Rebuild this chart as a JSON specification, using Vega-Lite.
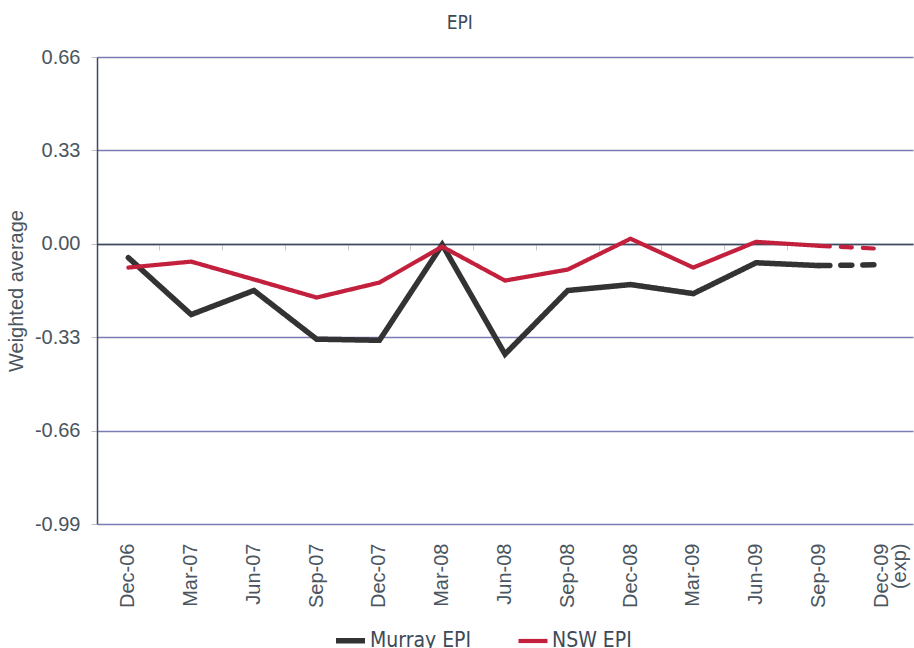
{
  "$schema": "https://vega.github.io/schema/vega-lite/v6.json",
  "autosize": {"type": "none"},
  "width": 816,
  "height": 467,
  "padding": {"left": 97, "top": 57, "right": 1, "bottom": 124},
  "background": "white",
  "title": {
    "text": "EPI",
    "fontSize": 19,
    "font": "Liberation Sans Narrow, DejaVu Sans Condensed, Roboto",
    "fontWeight": "normal",
    "color": "#3d4a57",
    "anchor": "middle",
    "frame": "bounds",
    "offset": 14
  },
  "config": {
    "view": {"stroke": null},
    "axis": {"labelFont": "Liberation Sans, Arial, sans-serif", "titleFont": "Liberation Sans, Arial, sans-serif"}
  },
  "data": {
    "values": [
      {"q": "Dec-06", "series": "Murray EPI", "seg": "actual", "v": -0.049},
      {"q": "Mar-07", "series": "Murray EPI", "seg": "actual", "v": -0.25},
      {"q": "Jun-07", "series": "Murray EPI", "seg": "actual", "v": -0.165},
      {"q": "Sep-07", "series": "Murray EPI", "seg": "actual", "v": -0.337},
      {"q": "Dec-07", "series": "Murray EPI", "seg": "actual", "v": -0.341},
      {"q": "Mar-08", "series": "Murray EPI", "seg": "actual", "v": -0.003},
      {"q": "Jun-08", "series": "Murray EPI", "seg": "actual", "v": -0.39},
      {"q": "Sep-08", "series": "Murray EPI", "seg": "actual", "v": -0.165},
      {"q": "Dec-08", "series": "Murray EPI", "seg": "actual", "v": -0.144},
      {"q": "Mar-09", "series": "Murray EPI", "seg": "actual", "v": -0.176},
      {"q": "Jun-09", "series": "Murray EPI", "seg": "actual", "v": -0.067},
      {"q": "Sep-09", "series": "Murray EPI", "seg": "actual", "v": -0.077},
      {"q": "Sep-09", "series": "Murray EPI", "seg": "expected", "v": -0.077},
      {"q": "Dec-09", "series": "Murray EPI", "seg": "expected", "v": -0.074},
      {"q": "Dec-06", "series": "NSW EPI", "seg": "actual", "v": -0.084},
      {"q": "Mar-07", "series": "NSW EPI", "seg": "actual", "v": -0.063},
      {"q": "Jun-07", "series": "NSW EPI", "seg": "actual", "v": -0.126},
      {"q": "Sep-07", "series": "NSW EPI", "seg": "actual", "v": -0.19},
      {"q": "Dec-07", "series": "NSW EPI", "seg": "actual", "v": -0.137},
      {"q": "Mar-08", "series": "NSW EPI", "seg": "actual", "v": -0.01},
      {"q": "Jun-08", "series": "NSW EPI", "seg": "actual", "v": -0.13},
      {"q": "Sep-08", "series": "NSW EPI", "seg": "actual", "v": -0.091},
      {"q": "Dec-08", "series": "NSW EPI", "seg": "actual", "v": 0.018},
      {"q": "Mar-09", "series": "NSW EPI", "seg": "actual", "v": -0.084},
      {"q": "Jun-09", "series": "NSW EPI", "seg": "actual", "v": 0.007},
      {"q": "Sep-09", "series": "NSW EPI", "seg": "actual", "v": -0.007},
      {"q": "Sep-09", "series": "NSW EPI", "seg": "expected", "v": -0.007},
      {"q": "Dec-09", "series": "NSW EPI", "seg": "expected", "v": -0.018}
    ]
  },
  "layer": [
    {
      "mark": {"type": "rule", "color": "#3d4a57", "strokeWidth": 1.5},
      "encoding": {
        "x": {
          "field": "q",
          "type": "ordinal",
          "sort": ["Dec-06","Mar-07","Jun-07","Sep-07","Dec-07","Mar-08","Jun-08","Sep-08","Dec-08","Mar-09","Jun-09","Sep-09","Dec-09"],
          "scale": {"type": "band", "paddingInner": 0, "paddingOuter": 0},
          "axis": {
            "orient": "top",
            "offset": -187,
            "labels": false,
            "title": null,
            "domain": true,
            "domainColor": "#3d4a57",
            "domainWidth": 1.5,
            "ticks": true,
            "tickSize": -6,
            "tickColor": "#c8c8c8",
            "tickWidth": 1,
            "bandPosition": 0,
            "grid": false
          }
        },
        "opacity": {"value": 0}
      }
    },
    {
      "mark": {"type": "line", "strokeCap": "round", "strokeJoin": "miter"},
      "encoding": {
        "x": {
          "field": "q",
          "type": "ordinal",
          "sort": ["Dec-06","Mar-07","Jun-07","Sep-07","Dec-07","Mar-08","Jun-08","Sep-08","Dec-08","Mar-09","Jun-09","Sep-09","Dec-09"],
          "scale": {"type": "band", "paddingInner": 0, "paddingOuter": 0},
          "axis": {
            "orient": "bottom",
            "title": null,
            "domain": false,
            "ticks": false,
            "grid": false,
            "labelAngle": -90,
            "labelAlign": "right",
            "labelBaseline": "middle",
            "labelPadding": 19,
            "labelFontSize": 20,
            "labelColor": "#4a5560",
            "labelLineHeight": 18,
            "labelExpr": "datum.value == 'Dec-09' ? ['Dec-09', '(exp)'] : datum.value"
          }
        },
        "y": {
          "field": "v",
          "type": "quantitative",
          "scale": {"domain": [-0.99, 0.66], "nice": false, "zero": false},
          "axis": {
            "values": [-0.99, -0.66, -0.33, 0, 0.33, 0.66],
            "labelExpr": "replace(format(datum.value, '.2f'), '\u2212', '-')",
            "title": "Weighted average",
            "titleFontSize": 20,
            "titleFontWeight": "normal",
            "titleColor": "#4a5560",
            "titlePadding": 8,
            "labelFontSize": 20,
            "labelColor": "#4a5560",
            "labelPadding": 11,
            "domainColor": "#3d4a57",
            "domainWidth": 1.5,
            "tickColor": "#c0c0c0",
            "tickSize": 6,
            "grid": true,
            "gridColor": "#7b7bb5",
            "gridWidth": 1.3
          }
        },
        "color": {
          "field": "series",
          "type": "nominal",
          "scale": {"domain": ["Murray EPI", "NSW EPI"], "range": ["#333333", "#c3203e"]},
          "legend": {
            "title": null,
            "orient": "none",
            "legendX": 236,
            "legendY": 566,
            "direction": "horizontal",
            "symbolType": "stroke",
            "symbolStrokeWidth": 4.5,
            "symbolSize": 841,
            "labelFont": "Liberation Sans Narrow, DejaVu Sans Condensed, Roboto",
            "labelFontSize": 21,
            "labelColor": "#3d4a57",
            "labelOffset": 2,
            "columnPadding": 38
          }
        },
        "strokeWidth": {
          "field": "series",
          "type": "nominal",
          "scale": {"domain": ["Murray EPI", "NSW EPI"], "range": [5.5, 4.2]},
          "legend": null
        },
        "strokeDash": {
          "field": "seg",
          "type": "nominal",
          "scale": {"domain": ["actual", "expected"], "range": [[1, 0], [11, 11]]},
          "legend": null
        },
        "detail": {"field": "seg"}
      }
    }
  ],
  "resolve": {"axis": {"x": "independent"}}
}
